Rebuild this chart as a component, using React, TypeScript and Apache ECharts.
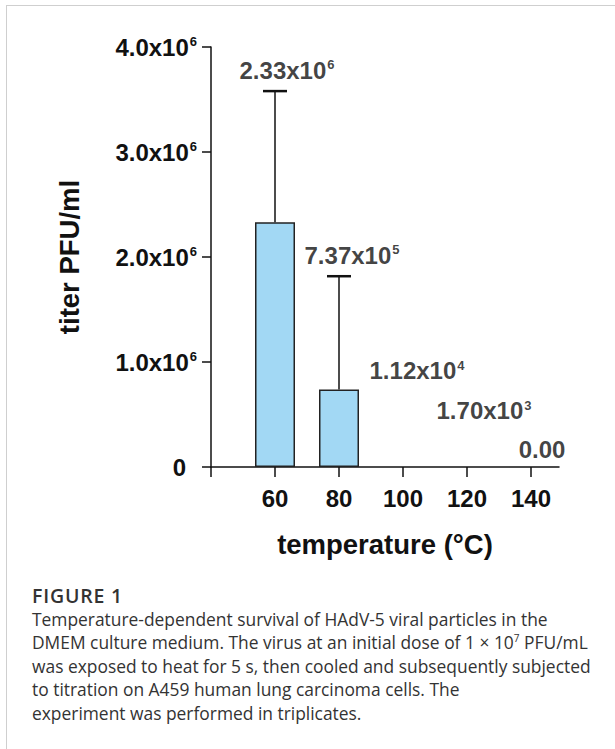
import React, { useEffect, useRef } from "react";
import * as echarts from "echarts";

// ---- data ----
const temperatures = [60, 80, 100, 120, 140];
const meanTiter = [2.33e6, 7.37e5, 1.12e4, 1.7e3, 0];
const sdTiter = [1.25e6, 1.08e6, 0, 0, 0];
const yTickValues = [0, 1e6, 2e6, 3e6, 4e6];
const xTickValues = [60, 80, 100, 120, 140];
const xAxisTitle = "temperature (°C)";
const yAxisTitle = "titer PFU/ml";
const captionTitle = "FIGURE 1";
const captionLines = [
  "Temperature-dependent survival of HAdV-5 viral particles in the",
  "DMEM culture medium. The virus at an initial dose of 1 × 10^7 PFU/mL",
  "was exposed to heat for 5 s, then cooled and subsequently subjected",
  "to titration on A459 human lung carcinoma cells. The",
  "experiment was performed in triplicates.",
];

const FONT = "'Liberation Sans', Arial, Helvetica, sans-serif";
const INK = "#111111";

function sciLabel(v: number): string {
  if (v === 0) return "{b|0.00}";
  const [m, e] = v.toExponential(2).split("e");
  return `{b|${m}x10}{s|${parseInt(e, 10)}}`;
}

const richStyles = {
  b: { fontSize: 24, fontWeight: "bold", fontFamily: FONT, color: INK, lineHeight: 26 },
  s: { fontSize: 13, fontWeight: "bold", fontFamily: FONT, color: INK, lineHeight: 13, verticalAlign: "top", padding: [1, 0, 0, 1] },
  z: { fontSize: 24, fontWeight: "bold", fontFamily: FONT, color: INK, lineHeight: 26, padding: [0, 11, 0, 0] },
};

const labelOffsets = [
  [12, -21],
  [13, -21],
  [14, -95],
  [17, -56],
  [11, -18],
];

function renderCaptionLine(line: string) {
  const parts = line.split("^");
  if (parts.length === 1) return line;
  const [before, after] = parts;
  const sup = after.charAt(0);
  return (
    <>
      {before}
      <sup style={{ fontSize: 10, lineHeight: 0 }}>{sup}</sup>
      {after.slice(1)}
    </>
  );
}

export default function App() {
  const ref = useRef<HTMLDivElement>(null);
  useEffect(() => {
    if (!ref.current) return;
    const chart = echarts.init(ref.current, null, { renderer: "svg" });
    const barData = temperatures.map((t, i) => ({
      value: [t, meanTiter[i]],
      itemStyle: meanTiter[i] < 1e5 ? { borderWidth: 0, color: "rgba(0,0,0,0)" } : undefined,
    }));
    const errData = temperatures.map((t, i) => [t, meanTiter[i], meanTiter[i] + sdTiter[i]]);
    const labelData = temperatures.map((t, i) => ({
      value: [t, meanTiter[i] + sdTiter[i]],
      label: { offset: labelOffsets[i] },
    }));
    chart.setOption({
      animation: false,
      grid: { left: 211, top: 47, width: 348, height: 420 },
      xAxis: {
        type: "value",
        min: 40,
        max: 148.75,
        name: xAxisTitle,
        nameLocation: "middle",
        nameGap: 63,
        nameTextStyle: { fontSize: 27.5, fontWeight: "bold", fontFamily: FONT, color: INK },
        axisLine: { show: true, lineStyle: { color: INK, width: 1.5 } },
        axisTick: { show: true, length: 10, lineStyle: { color: INK, width: 1.5 }, customValues: [40, ...xTickValues] },
        axisLabel: {
          customValues: xTickValues,
          margin: 19,
          fontSize: 24,
          fontWeight: "bold",
          fontFamily: FONT,
          color: INK,
        },
        splitLine: { show: false },
      },
      yAxis: {
        type: "value",
        min: 0,
        max: 4e6,
        interval: 1e6,
        name: yAxisTitle,
        nameLocation: "middle",
        nameRotate: 90,
        nameGap: 128,
        nameTextStyle: { fontSize: 27.5, fontWeight: "bold", fontFamily: FONT, color: INK },
        axisLine: { show: true, lineStyle: { color: INK, width: 1.5 } },
        axisTick: { show: true, length: 9, lineStyle: { color: INK, width: 1.5 } },
        axisLabel: {
          customValues: yTickValues,
          margin: 14,
          formatter: (v: number) => (v === 0 ? "{z|0}" : `{b|${(v / 1e6).toFixed(1)}x10}{s|6}`),
          rich: richStyles,
        },
        splitLine: { show: false },
      },
      series: [
        {
          type: "bar",
          data: barData,
          barWidth: 40,
          itemStyle: { color: "#A2D8F4", borderColor: "#222", borderWidth: 1.5 },
          z: 2,
        },
        {
          type: "custom",
          data: errData,
          z: 3,
          renderItem: (params: any, api: any) => {
            const x = api.value(0);
            const lo = api.coord([x, api.value(1)]);
            const hi = api.coord([x, api.value(2)]);
            if (Math.abs(lo[1] - hi[1]) < 0.5) return { type: "group", children: [] };
            const half = 12;
            const style = { stroke: INK, lineWidth: 1.5 };
            return {
              type: "group",
              children: [
                { type: "line", shape: { x1: hi[0], y1: lo[1], x2: hi[0], y2: hi[1] }, style },
                { type: "line", shape: { x1: hi[0] - half, y1: hi[1], x2: hi[0] + half, y2: hi[1] }, style: { stroke: INK, lineWidth: 2.5 } },
              ],
            };
          },
        },
        {
          type: "scatter",
          data: labelData,
          symbolSize: 0,
          z: 4,
          label: {
            show: true,
            position: "inside",
            formatter: (p: any) => sciLabel(meanTiter[p.dataIndex]),
            rich: richStyles,
          },
        },
      ],
    });
    return () => chart.dispose();
  }, []);

  return (
    <div style={{ position: "absolute", left: 0, top: 0, width: 615, height: 749, background: "#fff", overflow: "hidden" }}>
      <div style={{ position: "absolute", left: 6, top: 5, right: -10, bottom: -10, borderTop: "1.5px solid #cfcfcf", borderLeft: "1.5px solid #cfcfcf" }} />
      <div ref={ref} style={{ position: "absolute", left: 0, top: 0, width: 615, height: 575 }} />
      <div
        style={{
          position: "absolute",
          left: 32,
          top: 584,
          fontFamily: "'Open Sans', Lato, sans-serif",
          fontSize: 17.4,
          lineHeight: "23.5px",
          color: "#333",
          whiteSpace: "nowrap",
        }}
      >
        <div style={{ fontWeight: 600, fontSize: 19.5, letterSpacing: 0.8 }}>{captionTitle}</div>
        {captionLines.map((l, i) => (
          <div key={i}>{renderCaptionLine(l)}</div>
        ))}
      </div>
    </div>
  );
}
